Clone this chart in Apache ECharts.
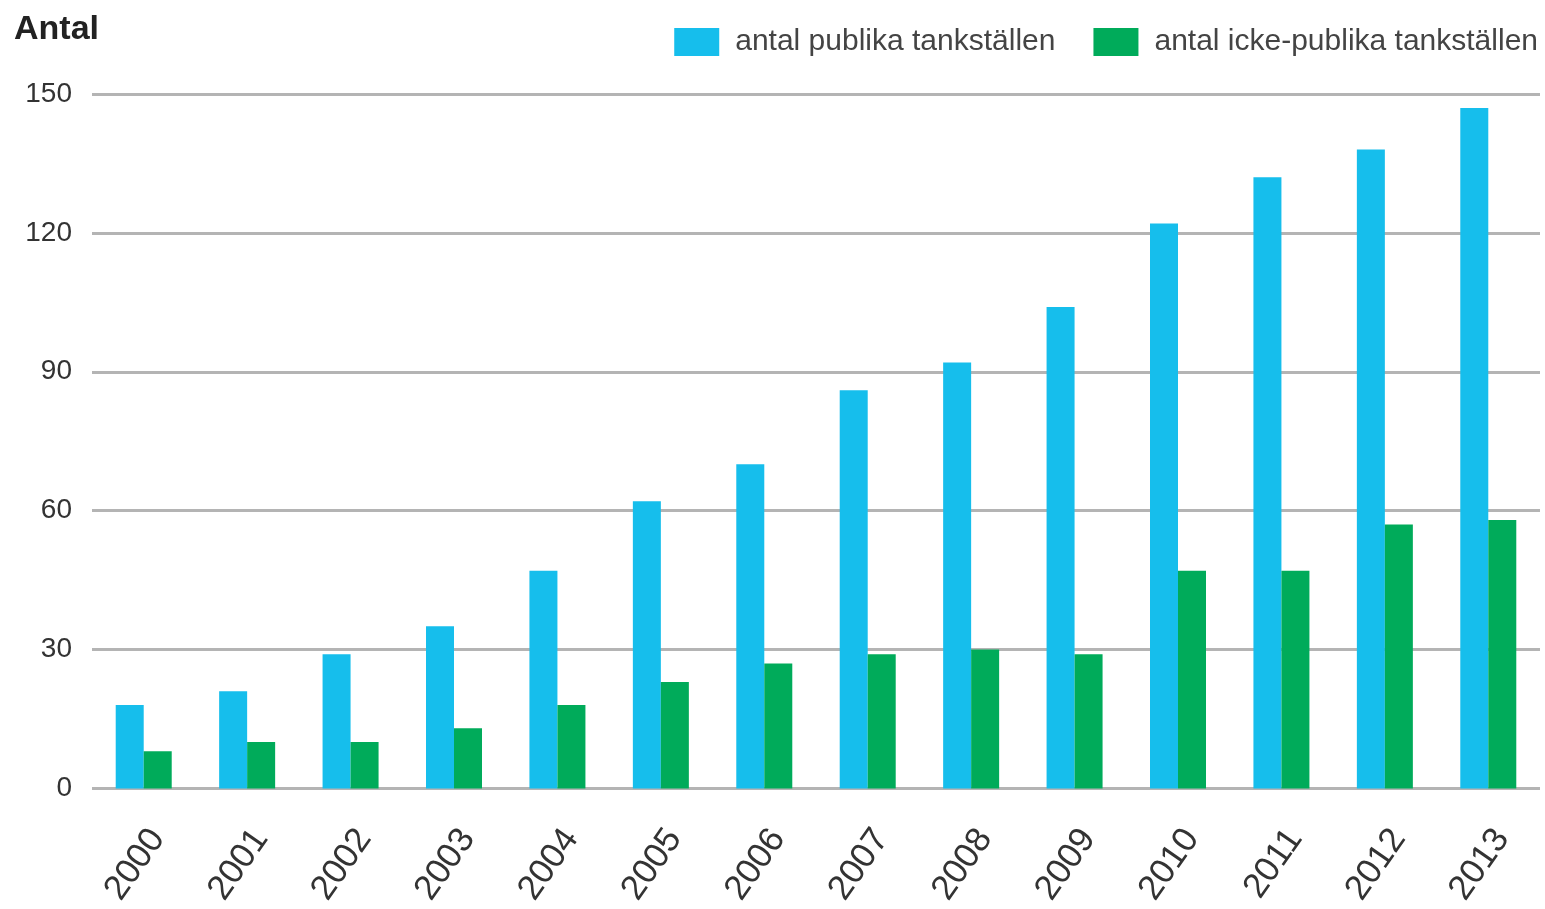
<!DOCTYPE html>
<html>
<head>
<meta charset="utf-8">
<script src="https://cdn.jsdelivr.net/npm/echarts@6/dist/echarts.min.js"></script>
<style>html,body{margin:0;padding:0;background:#fff}#c{width:1545px;height:909px}</style>
</head>
<body>
<div id="c"></div>
<script>
const years = ['2000','2001','2002','2003','2004','2005','2006','2007','2008','2009','2010','2011','2012','2013'];
const publika = [18,21,29,35,47,62,70,86,92,104,122,132,138,147];
const ickePublika = [8,10,10,13,18,23,27,29,30,29,47,47,57,58];
const yTicks = [0,30,60,90,120,150];
const seriesNames = ['antal publika tankställen','antal icke-publika tankställen'];

const chart = echarts.init(document.getElementById('c'));
chart.setOption({
  backgroundColor:'#fff',
  animation:false,
  title:{text:'Antal',left:9,top:8,textStyle:{fontFamily:'Liberation Sans',fontSize:34,fontWeight:'bold',color:'#222'}},
  legend:{
    right:2,top:22,itemWidth:45,itemHeight:28,itemGap:38,icon:'rect',
    textStyle:{fontFamily:'Liberation Sans',fontSize:30,color:'#444',padding:[0,0,0,11]},
    data:seriesNames
  },
  grid:{left:92,right:5,top:94,bottom:120,containLabel:false},
  xAxis:{
    type:'category',data:years,
    axisLine:{show:false},axisTick:{show:false},
    axisLabel:{rotate:55,fontFamily:'Liberation Sans',fontSize:35,color:'#333',margin:64,padding:[0,-24,0,0]}
  },
  yAxis:{
    type:'value',min:yTicks[0],max:yTicks[yTicks.length-1],interval:30,
    axisLine:{show:false},axisTick:{show:false},
    axisLabel:{fontFamily:'Liberation Sans',fontSize:28,color:'#333',margin:20},
    splitLine:{lineStyle:{color:'#b4b4b4',width:3}}
  },
  series:[
    {name:seriesNames[0],type:'bar',data:publika,barWidth:28,barGap:'0%',itemStyle:{color:'#16BEEC'}},
    {name:seriesNames[1],type:'bar',data:ickePublika,barWidth:28,barGap:'0%',itemStyle:{color:'#00AB5A'}}
  ]
});
</script>
</body>
</html>
